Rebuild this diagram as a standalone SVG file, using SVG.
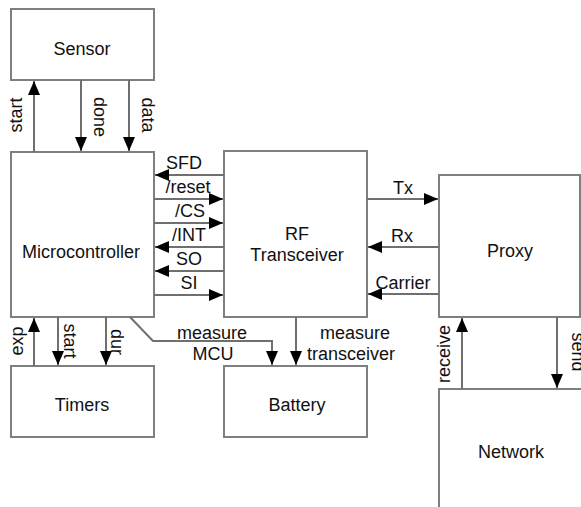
<svg xmlns="http://www.w3.org/2000/svg" width="581" height="507" viewBox="0 0 581 507">
<style>
.box{fill:#fff;stroke:#7f7f7f;stroke-width:2}
.c{fill:none;stroke:#6f6f6f;stroke-width:2}
text{font-family:"Liberation Sans",Arial,sans-serif;font-size:18px;fill:#111;text-anchor:middle}
</style>
<defs>
<marker id="ah" markerUnits="userSpaceOnUse" markerWidth="15" markerHeight="12" refX="14" refY="6" orient="auto">
<path d="M0,0 L14,6 L0,12 z" fill="#000"/>
</marker>
</defs>
<rect width="581" height="507" fill="#fff"/>
<g id="sensor"><rect class="box" x="11" y="9" width="143" height="71"/><text x="82" y="55">Sensor</text></g>
<g id="microcontroller"><rect class="box" x="11" y="152" width="143" height="165"/><text x="81" y="258">Microcontroller</text></g>
<g id="rf"><rect class="box" x="224" y="151" width="143" height="166"/><text x="297" y="240">RF</text><text x="297" y="261">Transceiver</text></g>
<g id="proxy"><rect class="box" x="439" y="175" width="141" height="142"/><text x="510" y="257">Proxy</text></g>
<g id="timers"><rect class="box" x="11" y="366" width="143" height="71"/><text x="82" y="411">Timers</text></g>
<g id="battery"><rect class="box" x="224" y="366" width="143" height="71"/><text x="297" y="411">Battery</text></g>
<g id="network"><rect class="box" x="439" y="389" width="160" height="130"/><text x="511" y="458">Network</text></g>
<g id="connectors">
<path class="c" d="M34,152 V81" marker-end="url(#ah)"/>
<path class="c" d="M81,80 V151" marker-end="url(#ah)"/>
<path class="c" d="M129,80 V151" marker-end="url(#ah)"/>
<path class="c" d="M224,175 H155" marker-end="url(#ah)"/>
<path class="c" d="M154,199 H223" marker-end="url(#ah)"/>
<path class="c" d="M154,223 H223" marker-end="url(#ah)"/>
<path class="c" d="M224,247 H155" marker-end="url(#ah)"/>
<path class="c" d="M224,271 H155" marker-end="url(#ah)"/>
<path class="c" d="M154,295 H223" marker-end="url(#ah)"/>
<path class="c" d="M367,199 H438" marker-end="url(#ah)"/>
<path class="c" d="M439,247 H368" marker-end="url(#ah)"/>
<path class="c" d="M439,294 H368" marker-end="url(#ah)"/>
<path class="c" d="M462,389 V318" marker-end="url(#ah)"/>
<path class="c" d="M557,317 V388" marker-end="url(#ah)"/>
<path class="c" d="M34,366 V318" marker-end="url(#ah)"/>
<path class="c" d="M58,317 V365" marker-end="url(#ah)"/>
<path class="c" d="M106,317 V365" marker-end="url(#ah)"/>
<path class="c" d="M130,317 L153,341 H272 V365" marker-end="url(#ah)"/>
<path class="c" d="M296,317 V365" marker-end="url(#ah)"/>
<text transform="translate(16,115) rotate(-90)" y="6">start</text>
<text transform="translate(100,117) rotate(90)" y="6">done</text>
<text transform="translate(148,115) rotate(90)" y="6">data</text>
<text x="184" y="169">SFD</text>
<text x="188" y="193">/reset</text>
<text x="190" y="217">/CS</text>
<text x="189" y="241">/INT</text>
<text x="189" y="265">SO</text>
<text x="189" y="289">SI</text>
<text x="403" y="194">Tx</text>
<text x="402" y="242">Rx</text>
<text x="403" y="289">Carrier</text>
<text transform="translate(444,354) rotate(-90)" y="6">receive</text>
<text transform="translate(578,352) rotate(90)" y="6">send</text>
<text transform="translate(17,341) rotate(-90)" y="6">exp</text>
<text transform="translate(70,341) rotate(90)" y="6">start</text>
<text transform="translate(117,342) rotate(90)" y="6">dur</text>
<text x="212" y="339">measure</text>
<text x="213" y="360">MCU</text>
<text x="355" y="339">measure</text>
<text x="351" y="360">transceiver</text>
</g>
</svg>
